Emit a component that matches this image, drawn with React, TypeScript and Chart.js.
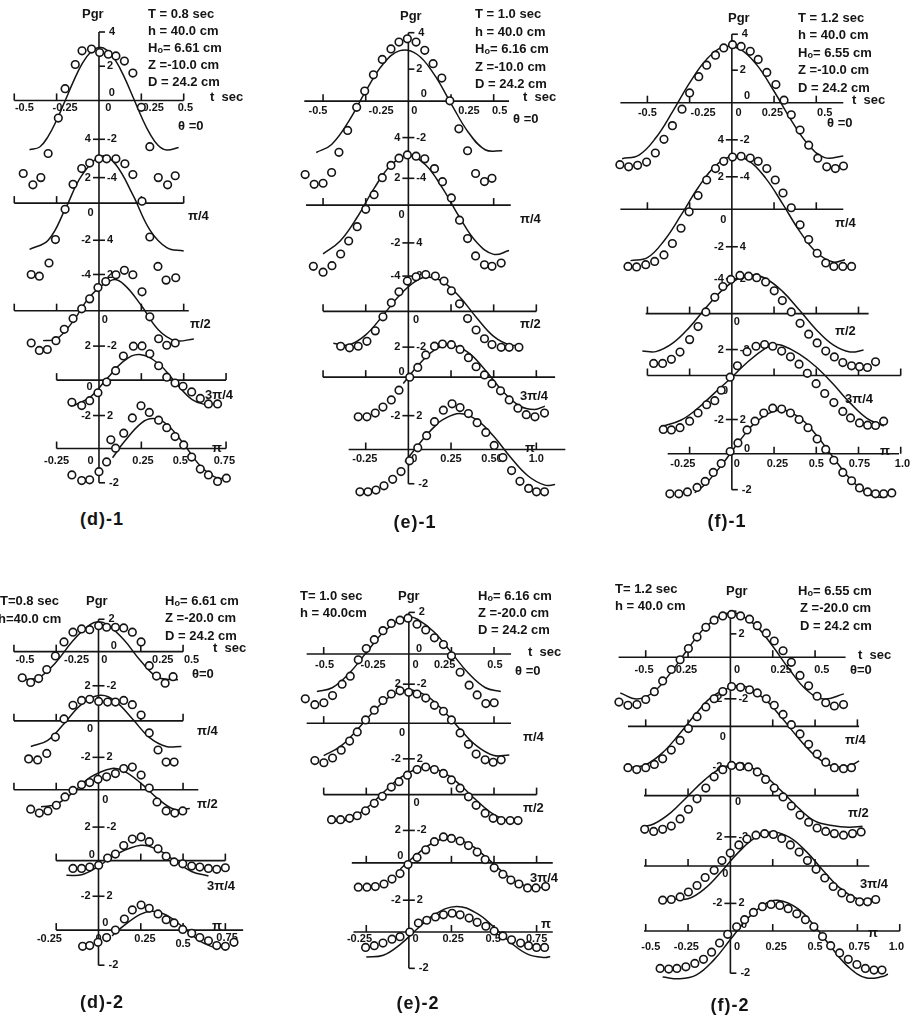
import React, { useEffect, useRef } from 'react';
import { Chart, registerables } from 'chart.js';

Chart.register(...registerables);

type Pt = [number, number];

// ---------------- DATA (t in sec, Pgr) : subplots theta = 0, pi/4, pi/2, 3pi/4, pi ----------------
const SUB_LABELS = ['θ =0', 'π/4', 'π/2', '3π/4', 'π'];

const D1_CURVE: Pt[][] = [
  [[-0.41,-2.88],[-0.35,-2.72],[-0.3,-2.1],[-0.25,-1.15],[-0.2,-0.02],[-0.15,1.13],[-0.1,2.14],[-0.05,2.82],[0,3.1],[0.05,2.91],[0.1,2.3],[0.15,1.35],[0.2,0.22],[0.25,-0.94],[0.3,-1.94],[0.35,-2.63],[0.4,-2.9],[0.47,-2.75]],
  [[-0.41,-2.7],[-0.3,-2.17],[-0.2,-0.37],[-0.1,1.64],[0.02,2.75],[0.1,2.24],[0.2,0.48],[0.3,-1.56],[0.4,-2.6],[0.5,-2.8]],
  [[-0.33,-1.75],[-0.25,-1.65],[-0.15,-0.58],[-0.05,0.86],[0.08,1.8],[0.15,1.51],[0.25,0.3],[0.35,-1.11],[0.45,-1.75],[0.56,-1.65]],
  [[-0.15,-1.5],[-0.05,-0.98],[0.05,0.12],[0.15,1.14],[0.24,1.5],[0.35,0.97],[0.45,-0.12],[0.55,-1.14],[0.65,-1.5]],
  [[0.08,-0.54],[0.15,0.41],[0.25,1.49],[0.32,1.75],[0.4,1.42],[0.5,0.27],[0.6,-1.03],[0.7,-1.73],[0.76,-1.66]],
];
const D1_OBS: Pt[][] = [
  [[-0.447,-4.27],[-0.39,-4.93],[-0.343,-4.51],[-0.3,-3.1],[-0.24,-1.03],[-0.2,0.69],[-0.14,2.1],[-0.1,2.9],[-0.044,3.0],[0.004,2.8],[0.055,2.7],[0.1,2.6],[0.15,2.3],[0.2,1.6],[0.25,-0.4],[0.3,-2.7],[0.35,-4.51],[0.405,-4.93],[0.45,-4.4]],
  [[-0.4,-4.17],[-0.352,-4.27],[-0.295,-3.5],[-0.257,-2.13],[-0.2,-0.36],[-0.153,1.1],[-0.102,2.02],[-0.055,2.34],[0,2.59],[0.045,2.59],[0.1,2.59],[0.153,2.3],[0.2,1.67],[0.254,0.11],[0.3,-1.98],[0.348,-3.7],[0.396,-4.5],[0.453,-4.36]],
  [[-0.4,-1.89],[-0.352,-2.32],[-0.305,-2.27],[-0.254,-1.75],[-0.205,-1.09],[-0.153,-0.46],[-0.102,0.11],[-0.055,0.69],[-0.006,1.35],[0.04,1.7],[0.1,2.1],[0.15,2.36],[0.2,2.1],[0.254,1.1],[0.3,-0.36],[0.352,-1.64],[0.4,-2.02],[0.45,-1.89]],
  [[-0.16,-1.3],[-0.102,-1.49],[-0.055,-1.2],[-0.006,-0.74],[0.045,-0.11],[0.098,0.55],[0.144,1.41],[0.203,1.98],[0.254,2.0],[0.3,1.54],[0.352,0.84],[0.4,0.17],[0.449,-0.17],[0.496,-0.36],[0.547,-0.69],[0.598,-1.07],[0.646,-1.39],[0.7,-1.39]],
  [[-0.16,-1.54],[-0.102,-1.87],[-0.055,-1.83],[0,-1.35],[0.045,-0.78],[0.07,0.51],[0.098,0.02],[0.146,0.9],[0.197,1.79],[0.248,2.5],[0.297,2.11],[0.352,1.66],[0.4,1.22],[0.449,0.7],[0.5,0.21],[0.547,-0.5],[0.598,-1.2],[0.646,-1.54],[0.7,-1.92],[0.752,-1.73]],
];

const E1_CURVE: Pt[][] = [
  [[-0.54,-3.0],[-0.45,-2.53],[-0.35,-1.18],[-0.25,0.58],[-0.15,2.14],[-0.05,2.95],[0.05,2.74],[0.15,1.58],[0.25,-0.14],[0.35,-1.8],[0.45,-2.84],[0.55,-2.9]],
  [[-0.5,-2.85],[-0.4,-2.1],[-0.3,-0.71],[-0.2,0.99],[-0.1,2.36],[0,2.9],[0.1,2.36],[0.2,0.99],[0.3,-0.71],[0.4,-2.17],[0.5,-2.88],[0.59,-2.66]],
  [[-0.44,-1.86],[-0.35,-1.96],[-0.25,-1.37],[-0.15,-0.25],[-0.05,0.96],[0.05,1.81],[0.12,2.0],[0.2,1.75],[0.3,0.85],[0.4,-0.37],[0.5,-1.46],[0.6,-1.98],[0.66,-1.94]],
  [[-0.03,-0.37],[0.05,0.61],[0.15,1.57],[0.242,1.9],[0.35,1.45],[0.45,0.42],[0.55,-0.79],[0.65,-1.67],[0.74,-1.89],[0.8,-1.69]],
  [[-0.02,-0.71],[0.05,0.16],[0.1,0.77],[0.15,1.31],[0.2,1.73],[0.3,2.1],[0.4,1.73],[0.5,0.77],[0.6,-0.47],[0.7,-1.53],[0.8,-2.08],[0.86,-2.05]],
];
const E1_OBS: Pt[][] = [
  [[-0.605,-4.29],[-0.552,-4.86],[-0.5,-4.8],[-0.45,-4.17],[-0.407,-2.99],[-0.356,-1.71],[-0.303,-0.36],[-0.256,0.59],[-0.205,1.54],[-0.153,2.44],[-0.102,3.05],[-0.055,3.45],[-0.006,3.64],[0.045,3.45],[0.096,2.97],[0.145,2.19],[0.196,1.35],[0.243,0.02],[0.296,-1.62],[0.347,-2.9],[0.394,-4.23],[0.446,-4.7],[0.49,-4.51]],
  [[-0.557,-3.58],[-0.5,-3.92],[-0.448,-3.54],[-0.397,-2.86],[-0.35,-2.1],[-0.3,-1.26],[-0.25,-0.25],[-0.201,0.61],[-0.153,1.6],[-0.102,2.32],[-0.055,2.74],[-0.006,2.93],[0.045,2.86],[0.096,2.7],[0.153,2.13],[0.2,1.37],[0.252,0.42],[0.3,-0.88],[0.347,-1.96],[0.394,-2.97],[0.446,-3.49],[0.49,-3.58],[0.544,-3.39]],
  [[-0.397,-2.04],[-0.345,-2.13],[-0.294,-2.04],[-0.243,-1.75],[-0.194,-1.14],[-0.149,-0.32],[-0.1,0.5],[-0.055,1.14],[-0.006,1.77],[0.045,2.02],[0.102,2.15],[0.158,2.06],[0.209,1.77],[0.252,1.2],[0.3,0.44],[0.347,-0.42],[0.397,-1.09],[0.446,-1.6],[0.49,-1.94],[0.544,-2.1],[0.591,-2.1],[0.648,-2.1]],
  [[-0.294,-2.32],[-0.243,-2.32],[-0.194,-2.1],[-0.149,-1.75],[-0.1,-1.33],[-0.055,-0.76],[0.008,0],[0.055,0.57],[0.102,1.3],[0.153,1.81],[0.2,1.94],[0.252,1.9],[0.303,1.62],[0.352,1.14],[0.397,0.61],[0.446,0.13],[0.49,-0.38],[0.54,-0.8],[0.591,-1.33],[0.642,-1.81],[0.691,-2.19],[0.742,-2.32],[0.798,-2.1]],
  [[-0.284,-2.47],[-0.237,-2.47],[-0.19,-2.37],[-0.143,-2.12],[-0.092,-1.74],[-0.043,-1.29],[0.007,-0.66],[0.055,0.1],[0.107,0.81],[0.153,1.63],[0.205,2.3],[0.256,2.67],[0.303,2.45],[0.352,2.1],[0.403,1.57],[0.454,1.0],[0.503,0.24],[0.554,-0.47],[0.605,-1.23],[0.654,-1.86],[0.705,-2.27],[0.751,-2.47],[0.798,-2.47]],
];

const F1_CURVE: Pt[][] = [
  [[-0.65,-3.27],[-0.55,-3.06],[-0.45,-2.05],[-0.35,-0.51],[-0.25,1.16],[-0.15,2.53],[-0.05,3.25],[0.05,3.12],[0.15,2.18],[0.25,0.67],[0.35,-1.0],[0.45,-2.42],[0.55,-3.21],[0.66,-3.12]],
  [[-0.6,-3.0],[-0.5,-2.83],[-0.4,-1.82],[-0.3,-0.33],[-0.2,1.26],[-0.1,2.51],[0,3.08],[0.1,2.83],[0.2,1.82],[0.3,0.33],[0.4,-1.26],[0.5,-2.51],[0.6,-3.08],[0.67,-2.95]],
  [[-0.53,-2.18],[-0.45,-2.22],[-0.35,-1.73],[-0.25,-0.79],[-0.15,0.38],[-0.05,1.43],[0.05,2.11],[0.12,2.25],[0.2,2.05],[0.3,1.3],[0.4,0.21],[0.5,-0.94],[0.6,-1.83],[0.7,-2.24],[0.78,-2.13]],
  [[-0.42,-3.0],[-0.3,-2.6],[-0.2,-1.9],[-0.1,-1.0],[0,-0.1],[0.1,0.85],[0.2,1.6],[0.25,1.8],[0.3,1.75],[0.4,1.25],[0.5,0.5],[0.6,-0.5],[0.7,-1.6],[0.8,-2.5],[0.9,-2.95]],
  [[-0.22,-2.28],[-0.15,-1.71],[-0.05,-0.53],[0.05,0.8],[0.15,1.91],[0.287,2.55],[0.4,2.11],[0.5,1.1],[0.6,-0.21],[0.7,-1.46],[0.8,-2.32],[0.88,-2.55],[0.92,-2.5]],
];
const F1_OBS: Pt[][] = [
  [[-0.663,-3.62],[-0.611,-3.75],[-0.558,-3.66],[-0.505,-3.47],[-0.453,-2.94],[-0.402,-2.14],[-0.352,-1.34],[-0.295,-0.38],[-0.25,0.57],[-0.196,1.52],[-0.149,2.19],[-0.097,2.78],[-0.048,3.2],[0.004,3.39],[0.055,3.29],[0.109,3.0],[0.156,2.53],[0.207,1.77],[0.261,1.06],[0.309,0.15],[0.352,-0.71],[0.404,-1.6],[0.455,-2.48],[0.509,-3.24],[0.562,-3.75],[0.613,-3.85],[0.661,-3.7]],
  [[-0.615,-3.34],[-0.564,-3.37],[-0.51,-3.24],[-0.457,-3.05],[-0.402,-2.67],[-0.352,-2.0],[-0.301,-1.11],[-0.253,-0.15],[-0.2,0.8],[-0.149,1.71],[-0.097,2.38],[-0.048,2.8],[0.004,3.05],[0.055,3.1],[0.109,2.99],[0.156,2.8],[0.207,2.38],[0.257,1.71],[0.303,0.95],[0.352,0.09],[0.404,-0.91],[0.455,-1.77],[0.505,-2.57],[0.556,-3.14],[0.604,-3.34],[0.657,-3.34],[0.709,-3.34]],
  [[-0.463,-2.91],[-0.41,-2.91],[-0.358,-2.67],[-0.307,-2.25],[-0.25,-1.52],[-0.2,-0.76],[-0.154,0.1],[-0.101,0.95],[-0.053,1.58],[-0.006,2.0],[0.048,2.23],[0.099,2.19],[0.147,2.1],[0.2,1.85],[0.251,1.33],[0.299,0.76],[0.352,0.1],[0.404,-0.57],[0.455,-1.2],[0.505,-1.71],[0.556,-2.19],[0.607,-2.53],[0.657,-2.86],[0.709,-3.05],[0.756,-3.1],[0.803,-3.15],[0.851,-2.82]],
  [[-0.406,-3.15],[-0.358,-3.18],[-0.307,-3.05],[-0.25,-2.67],[-0.2,-2.19],[-0.149,-1.71],[-0.101,-1.47],[-0.063,-0.86],[-0.01,-0.1],[0.033,0.57],[0.09,1.39],[0.143,1.71],[0.194,1.81],[0.242,1.71],[0.295,1.43],[0.347,1.09],[0.398,0.66],[0.447,0.13],[0.499,-0.48],[0.55,-1.05],[0.604,-1.58],[0.657,-2.1],[0.703,-2.48],[0.756,-2.77],[0.804,-2.9],[0.851,-2.92],[0.899,-2.67]],
  [[-0.367,-2.34],[-0.314,-2.34],[-0.263,-2.23],[-0.206,-1.97],[-0.158,-1.62],[-0.11,-1.09],[-0.063,-0.57],[-0.01,0.13],[0.036,0.63],[0.09,1.39],[0.137,1.9],[0.189,2.38],[0.242,2.66],[0.295,2.61],[0.347,2.38],[0.398,2.0],[0.451,1.52],[0.505,0.86],[0.556,0.25],[0.604,-0.38],[0.657,-1.09],[0.709,-1.58],[0.756,-2.0],[0.804,-2.23],[0.851,-2.34],[0.899,-2.34],[0.947,-2.29]],
];

const D2_CURVE: Pt[][] = [
  [[-0.44,-1.65],[-0.35,-1.5],[-0.25,-0.6],[-0.15,0.66],[-0.05,1.58],[0,1.75],[0.05,1.6],[0.15,0.7],[0.25,-0.55],[0.35,-1.5],[0.47,-1.65]],
  [[-0.4,-1.5],[-0.3,-1.14],[-0.2,-0.12],[-0.1,0.97],[0.01,1.5],[0.1,1.14],[0.2,0.12],[0.3,-0.97],[0.4,-1.5],[0.49,-1.5]],
  [[-0.34,-1.0],[-0.25,-0.85],[-0.15,-0.16],[-0.05,0.72],[0.08,1.25],[0.15,1.09],[0.25,0.39],[0.35,-0.52],[0.45,-1.15],[0.54,-1.1]],
  [[-0.19,-0.86],[-0.1,-0.83],[0,-0.34],[0.1,0.34],[0.25,0.9],[0.35,0.64],[0.45,0],[0.55,-0.64],[0.65,-0.9]],
  [[0.08,-0.34],[0.15,0.26],[0.25,0.94],[0.32,1.1],[0.4,0.89],[0.5,0.17],[0.6,-0.65],[0.7,-1.09]],
];
const D2_OBS: Pt[][] = [
  [[-0.451,-1.53],[-0.401,-1.81],[-0.354,-1.58],[-0.306,-1.05],[-0.255,-0.25],[-0.204,0.57],[-0.151,1.14],[-0.1,1.33],[-0.052,1.29],[0.001,1.52],[0.048,1.43],[0.1,1.43],[0.149,1.39],[0.2,1.14],[0.252,0.57],[0.3,-0.82],[0.343,-1.43],[0.394,-1.85],[0.441,-1.47]],
  [[-0.413,-2.23],[-0.36,-2.29],[-0.306,-1.91],[-0.255,-0.95],[-0.204,0.11],[-0.151,0.91],[-0.1,1.2],[-0.052,1.26],[0.001,1.14],[0.054,1.1],[0.1,1.1],[0.149,1.2],[0.2,0.95],[0.252,0.34],[0.3,-0.71],[0.352,-1.71],[0.4,-2.42],[0.447,-2.42]],
  [[-0.401,-1.14],[-0.35,-1.37],[-0.299,-1.24],[-0.249,-0.91],[-0.198,-0.42],[-0.151,-0.04],[-0.1,0.29],[-0.052,0.42],[-0.003,0.61],[0.048,0.76],[0.1,0.95],[0.149,1.24],[0.2,1.33],[0.252,0.86],[0.3,0.1],[0.346,-0.72],[0.4,-1.24],[0.451,-1.37],[0.498,-1.24]],
  [[-0.151,-0.46],[-0.1,-0.46],[-0.052,-0.38],[0.001,-0.27],[0.054,0.15],[0.1,0.38],[0.149,0.88],[0.2,1.26],[0.252,1.39],[0.3,1.11],[0.352,0.69],[0.4,0.25],[0.447,-0.08],[0.498,-0.19],[0.551,-0.32],[0.599,-0.38],[0.65,-0.46],[0.699,-0.51],[0.75,-0.42]],
  [[-0.094,-0.95],[-0.052,-0.91],[-0.003,-0.72],[0.048,-0.44],[0.1,0],[0.153,0.65],[0.2,1.18],[0.252,1.47],[0.3,1.28],[0.352,0.95],[0.4,0.61],[0.447,0.42],[0.498,0.04],[0.551,-0.19],[0.599,-0.44],[0.65,-0.63],[0.699,-0.91],[0.75,-0.95],[0.801,-0.72]],
];

const E2_CURVE: Pt[][] = [
  [[-0.54,-2.2],[-0.45,-1.98],[-0.35,-1.13],[-0.25,0.08],[-0.15,1.27],[-0.05,2.04],[0,2.19],[0.05,2.04],[0.15,1.27],[0.25,0.08],[0.35,-1.13],[0.45,-1.98],[0.54,-2.2]],
  [[-0.5,-1.9],[-0.4,-1.35],[-0.3,-0.35],[-0.2,0.76],[-0.1,1.63],[0,1.95],[0.1,1.63],[0.2,0.76],[0.3,-0.35],[0.4,-1.35],[0.5,-1.9],[0.59,-1.86]],
  [[-0.45,-1.58],[-0.35,-1.44],[-0.25,-0.8],[-0.15,0.12],[-0.05,1.0],[0.05,1.53],[0.1,1.6],[0.2,1.32],[0.3,0.58],[0.4,-0.36],[0.5,-1.17],[0.6,-1.58],[0.66,-1.56]],
  [[-0.05,-0.36],[0.05,0.53],[0.15,1.22],[0.24,1.45],[0.35,1.12],[0.45,0.36],[0.55,-0.53],[0.65,-1.22],[0.75,-1.45],[0.82,-1.4]],
  [[-0.25,-1.47],[-0.15,-1.36],[-0.05,-0.72],[0.05,0.19],[0.15,1.03],[0.28,1.5],[0.4,1.09],[0.5,0.28],[0.6,-0.64],[0.7,-1.31],[0.8,-1.49],[0.83,-1.43]],
];
const E2_OBS: Pt[][] = [
  [[-0.608,-2.63],[-0.552,-2.97],[-0.499,-2.86],[-0.448,-2.44],[-0.392,-1.77],[-0.344,-1.3],[-0.297,-0.34],[-0.25,0.32],[-0.203,0.84],[-0.152,1.37],[-0.103,1.79],[-0.052,1.98],[-0.005,2.1],[0.048,1.75],[0.099,1.41],[0.15,0.95],[0.203,0.55],[0.25,-0.11],[0.301,-1.07],[0.354,-1.83],[0.401,-2.4],[0.452,-2.91],[0.501,-2.86]],
  [[-0.552,-2.19],[-0.499,-2.32],[-0.448,-2.04],[-0.397,-1.58],[-0.348,-1.05],[-0.303,-0.51],[-0.254,0.19],[-0.203,0.76],[-0.152,1.33],[-0.103,1.71],[-0.052,1.9],[-0.001,1.81],[0.048,1.71],[0.099,1.47],[0.15,1.05],[0.203,0.7],[0.25,0.19],[0.301,-0.57],[0.35,-1.24],[0.395,-1.81],[0.448,-2.15],[0.495,-2.29],[0.542,-2.15]],
  [[-0.454,-1.47],[-0.401,-1.47],[-0.348,-1.39],[-0.303,-1.24],[-0.254,-0.95],[-0.203,-0.51],[-0.156,-0.1],[-0.103,0.44],[-0.058,0.76],[-0.008,1.14],[0.048,1.47],[0.099,1.62],[0.15,1.47],[0.203,1.24],[0.25,0.86],[0.301,0.38],[0.35,-0.13],[0.395,-0.63],[0.448,-1.09],[0.495,-1.39],[0.542,-1.52],[0.595,-1.52],[0.641,-1.52]],
  [[-0.297,-1.43],[-0.246,-1.43],[-0.197,-1.39],[-0.146,-1.24],[-0.099,-0.95],[-0.052,-0.63],[-0.005,-0.1],[0.048,0.32],[0.099,0.76],[0.15,1.24],[0.203,1.52],[0.25,1.43],[0.301,1.28],[0.35,1.01],[0.401,0.63],[0.448,0.19],[0.501,-0.29],[0.552,-0.67],[0.599,-1.01],[0.646,-1.24],[0.697,-1.47],[0.746,-1.47],[0.803,-1.39]],
  [[-0.254,-0.9],[-0.203,-0.8],[-0.152,-0.65],[-0.099,-0.42],[-0.052,-0.27],[0.005,0],[0.056,0.53],[0.105,0.69],[0.156,0.88],[0.203,1.01],[0.254,1.1],[0.301,1.01],[0.354,0.82],[0.401,0.57],[0.452,0.34],[0.501,0.06],[0.552,-0.23],[0.603,-0.46],[0.656,-0.65],[0.703,-0.8],[0.75,-0.9],[0.797,-0.9]],
];

const F2_CURVE: Pt[][] = [
  [[-0.65,-2.1],[-0.55,-2.45],[-0.45,-2.01],[-0.35,-0.88],[-0.25,0.5],[-0.15,1.74],[-0.05,2.49],[0.005,2.6],[0.05,2.52],[0.15,1.85],[0.25,0.64],[0.35,-0.74],[0.45,-1.92],[0.55,-2.45],[0.67,-2.15]],
  [[-0.58,-2.4],[-0.5,-2.25],[-0.4,-1.54],[-0.3,-0.43],[-0.2,0.79],[-0.1,1.8],[0.04,2.4],[0.1,2.29],[0.2,1.63],[0.3,0.55],[0.4,-0.67],[0.5,-1.72],[0.6,-2.32],[0.7,-2.32],[0.76,-2.02]],
  [[-0.52,-1.84],[-0.45,-1.65],[-0.35,-0.98],[-0.25,-0.02],[-0.15,0.94],[-0.05,1.63],[0.04,1.85],[0.1,1.75],[0.2,1.19],[0.3,0.28],[0.4,-0.71],[0.5,-1.5],[0.6,-1.75],[0.7,-1.85],[0.78,-1.8]],
  [[-0.35,-1.92],[-0.25,-1.92],[-0.15,-1.31],[-0.05,-0.29],[0.05,0.83],[0.15,1.68],[0.25,2.0],[0.35,1.68],[0.45,0.83],[0.55,-0.29],[0.65,-1.31],[0.75,-1.92],[0.84,-1.95]],
  [[-0.4,-2.7],[-0.3,-2.8],[-0.2,-2.57],[-0.1,-1.72],[0,-0.5],[0.1,0.72],[0.2,1.57],[0.28,1.8],[0.4,1.3],[0.5,0.26],[0.6,-1.01],[0.7,-2.13],[0.8,-2.74],[0.9,-2.67],[0.93,-2.52]],
];
const F2_OBS: Pt[][] = [
  [[-0.658,-2.63],[-0.605,-2.82],[-0.552,-2.78],[-0.5,-2.48],[-0.449,-2.02],[-0.4,-1.39],[-0.349,-0.72],[-0.297,-0.15],[-0.248,0.51],[-0.197,1.18],[-0.145,1.75],[-0.096,2.17],[-0.045,2.42],[0.007,2.51],[0.06,2.42],[0.113,2.23],[0.159,1.85],[0.212,1.41],[0.259,0.95],[0.311,0.38],[0.36,-0.3],[0.411,-1.07],[0.462,-1.68],[0.512,-2.29],[0.563,-2.67],[0.614,-2.86],[0.668,-2.78]],
  [[-0.605,-2.42],[-0.553,-2.53],[-0.5,-2.42],[-0.449,-2.23],[-0.4,-1.9],[-0.349,-1.39],[-0.297,-0.82],[-0.248,-0.13],[-0.197,0.57],[-0.145,1.14],[-0.096,1.62],[-0.045,2.04],[0.007,2.34],[0.06,2.29],[0.113,2.15],[0.159,1.96],[0.212,1.62],[0.259,1.24],[0.311,0.7],[0.36,0.1],[0.411,-0.44],[0.462,-1.05],[0.512,-1.62],[0.563,-2.1],[0.614,-2.42],[0.668,-2.48],[0.715,-2.42]],
  [[-0.506,-1.98],[-0.453,-2.1],[-0.4,-1.98],[-0.349,-1.79],[-0.297,-1.37],[-0.248,-0.8],[-0.197,-0.19],[-0.145,0.44],[-0.096,1.1],[-0.045,1.52],[0.007,1.77],[0.056,1.71],[0.107,1.68],[0.159,1.39],[0.208,0.95],[0.259,0.44],[0.311,-0.08],[0.36,-0.61],[0.411,-1.14],[0.462,-1.56],[0.512,-1.9],[0.563,-2.1],[0.614,-2.23],[0.668,-2.32],[0.721,-2.23],[0.772,-2.13]],
  [[-0.4,-2.0],[-0.349,-1.96],[-0.297,-1.81],[-0.248,-1.52],[-0.197,-1.14],[-0.149,-0.67],[-0.096,-0.25],[-0.05,0.32],[-0.001,0.76],[0.05,1.24],[0.098,1.58],[0.151,1.81],[0.202,1.9],[0.254,1.85],[0.303,1.62],[0.354,1.24],[0.406,0.82],[0.455,0.32],[0.506,-0.19],[0.557,-0.7],[0.607,-1.2],[0.658,-1.58],[0.709,-1.9],[0.763,-2.1],[0.81,-2.1],[0.858,-1.96]],
  [[-0.415,-2.19],[-0.364,-2.23],[-0.316,-2.19],[-0.263,-2.1],[-0.21,-1.9],[-0.159,-1.66],[-0.111,-1.24],[-0.064,-0.7],[-0.016,-0.19],[0.037,0.25],[0.084,0.67],[0.136,1.09],[0.189,1.43],[0.24,1.56],[0.292,1.5],[0.341,1.31],[0.392,1.01],[0.443,0.67],[0.493,0.25],[0.544,-0.32],[0.592,-0.86],[0.645,-1.28],[0.696,-1.66],[0.747,-1.96],[0.797,-2.19],[0.848,-2.29],[0.895,-2.29]],
];

// ---------------- LAYOUT (page pixels, label placement) ----------------
type Tick = [number, number, string, string];
interface Layout {
  L: number; T: number; W: number; H: number;
  x0: number; sx: number; u: number;
  bases: number[];
  axes: number[][];
  vTop: [number, number, string];
  vBot: [number, number, string];
  vTicks: Tick[];
  zeros: [number, number, number][];
  xLabels: [number, number, string, number][];
  texts: [number, number, string][];
  caption: [number, number, string];
  curves: Pt[][];
  obs: Pt[][];
}

const PANELS: Layout[] = [
  {
    L: 0, T: 0, W: 300, H: 505, x0: 97, sx: 176, u: 17.5,
    bases: [97, 202, 312, 383, 453],
    axes: [[-0.5, 0.5, -0.5, 0.5], [-0.5, 0.5, -0.5, 0.5], [-0.5, 0.53, -0.5, 0.5], [-0.25, 0.75, -0.25, 0.75], [-0.25, 0.75, -0.25, 0.75]],
    vTop: [0, 4, '4'], vBot: [4, -2, '-2'],
    vTicks: [[0, 2, '', '2'], [0, -2.27, '4', '-2'], [0, -4.51, '2', '-4'], [1, -2.17, '-2', '4'], [1, -4.17, '-4', '2'], [2, -2.07, '2', '-2'], [4, 1.93, '-2', '2']],
    zeros: [[0, 0.075, 0.45], [1, -0.05, -0.6], [2, 0.035, -0.55], [3, -0.055, -0.4]],
    xLabels: [[0, -0.44, '-0.5', 8], [0, -0.2, '-0.25', 8], [0, 0.055, '0', 8], [0, 0.32, '0.25', 8], [0, 0.51, '0.5', 8],
      [4, -0.25, '-0.25', 12], [4, -0.05, '0', 12], [4, 0.26, '0.25', 12], [4, 0.48, '0.5', 12], [4, 0.74, '0.75', 12]],
    texts: [[82, 13, 'Pgr'], [148, 13, 'T = 0.8 sec'], [148, 30, 'h = 40.0 cm'], [148, 47, 'Ho= 6.61 cm'], [148, 64, 'Z =-10.0 cm'], [148, 81, 'D = 24.2 cm'],
      [210, 96, 't  sec'], [178, 125, SUB_LABELS[0]], [188, 215, SUB_LABELS[1]], [190, 323, SUB_LABELS[2]], [205, 394, SUB_LABELS[3]], [212, 447, SUB_LABELS[4]]],
    caption: [102, 519, '(d)-1'],
    curves: D1_CURVE, obs: D1_OBS,
  },
  {
    L: 290, T: 0, W: 310, H: 505, x0: 407, sx: 177, u: 17.5,
    bases: [97.7, 204, 312.7, 380, 454],
    axes: [[-0.61, 0.59, -0.5, 0.5], [-0.6, 0.6, -0.5, 0.5], [-0.5, 0.75, -0.5, 0.75], [-0.5, 0.86, -0.5, 0.75], [-0.35, 0.92, -0.25, 0.75]],
    vTop: [0, 4, '4'], vBot: [4, -2, '-2'],
    vTicks: [[0, 1.87, '', '2'], [0, -2.13, '4', '-2'], [0, -4.51, '2', '-4'], [1, -2.21, '-2', '4'], [1, -4.15, '-4', '2'], [2, -2.09, '2', '-2'], [4, 1.98, '-2', '2']],
    zeros: [[0, 0.09, 0.4], [1, -0.04, -0.6], [2, 0.045, -0.5], [3, -0.04, 0.3]],
    xLabels: [[0, -0.53, '-0.5', 10], [0, -0.16, '-0.25', 10], [0, 0.035, '0', 10], [0, 0.355, '0.25', 10], [0, 0.535, '0.5', 10],
      [4, -0.255, '-0.25', 9], [4, 0.035, '0', 9], [4, 0.25, '0.25', 9], [4, 0.49, '0.50', 9], [4, 0.75, '1.0', 9]],
    texts: [[400, 15, 'Pgr'], [475, 13, 'T = 1.0 sec'], [475, 31, 'h = 40.0 cm'], [475, 48, 'Ho= 6.16 cm'], [475, 66, 'Z =-10.0 cm'], [475, 83, 'D = 24.2 cm'],
      [523, 96, 't  sec'], [513, 118, SUB_LABELS[0]], [520, 218, SUB_LABELS[1]], [520, 323, SUB_LABELS[2]], [520, 395, SUB_LABELS[3]], [525, 447, SUB_LABELS[4]]],
    caption: [415, 522, '(e)-1'],
    curves: E1_CURVE, obs: E1_OBS,
  },
  {
    L: 595, T: 0, W: 320, H: 505, x0: 731, sx: 175, u: 17.5,
    bases: [99.3, 208.3, 315, 378.3, 458.3],
    axes: [[-0.66, 0.66, -0.5, 0.5], [-0.66, 0.66, -0.5, 0.5], [-0.51, 0.81, -0.5, 0.75], [-0.5, 1.0, -0.5, 1.0], [-0.38, 0.99, -0.25, 1.0]],
    vTop: [0, 4, '4'], vBot: [4, -2.1, '-2'],
    vTicks: [[0, 1.9, '', '2'], [0, -2.17, '4', '-2'], [0, -4.33, '2', '-4'], [1, -2.19, '-2', '4'], [1, -4.06, '-4', '2'], [2, -2.1, '2', '-2'], [4, 2.0, '-2', '2']],
    zeros: [[0, 0.09, 0.4], [1, -0.05, -0.6], [2, 0.03, -0.5], [3, -0.04, -0.9], [4, 0.09, 0.3]],
    xLabels: [[0, -0.5, '-0.5', 10], [0, -0.17, '-0.25', 10], [0, 0.04, '0', 10], [0, 0.24, '0.25', 10], [0, 0.55, '0.5', 10],
      [4, -0.29, '-0.25', 10], [4, 0.03, '0', 10], [4, 0.27, '0.25', 10], [4, 0.5, '0.5', 10], [4, 0.755, '0.75', 10], [4, 1.01, '1.0', 10]],
    texts: [[728, 17, 'Pgr'], [798, 17, 'T = 1.2 sec'], [798, 34, 'h = 40.0 cm'], [798, 52, 'Ho= 6.55 cm'], [798, 69, 'Z =-10.0 cm'], [798, 87, 'D = 24.2 cm'],
      [852, 99, 't  sec'], [827, 122, SUB_LABELS[0]], [835, 222, SUB_LABELS[1]], [835, 330, SUB_LABELS[2]], [845, 398, SUB_LABELS[3]], [880, 450, SUB_LABELS[4]]],
    caption: [727, 521, '(f)-1'],
    curves: F1_CURVE, obs: F1_OBS,
  },
  {
    L: 0, T: 560, W: 300, H: 440, x0: 96.5, sx: 175.7, u: 17.5,
    bases: [648.3, 719.3, 790, 862.7, 934],
    axes: [[-0.5, 0.5, -0.5, 0.5], [-0.5, 0.5, -0.5, 0.5], [-0.5, 0.59, -0.5, 0.5], [-0.25, 0.75, -0.25, 0.75], [-0.25, 0.855, -0.25, 0.75]],
    vTop: [0, 1.9, '2'], vBot: [4, -2.06, '-2'],
    vTicks: [[0, -2.0, '2', '-2'], [1, -2.14, '-2', '2'], [2, -2.19, '2', '-2'], [3, -2.09, '-2', '2']],
    zeros: [[0, 0.09, 0.35], [1, -0.05, -0.5], [2, 0.04, -0.6], [3, -0.04, 0.35], [4, 0.04, 0.42]],
    xLabels: [[0, -0.435, '-0.5', 8], [0, -0.13, '-0.25', 8], [0, 0.035, '0', 8], [0, 0.38, '0.25', 8], [0, 0.55, '0.5', 8],
      [4, -0.29, '-0.25', 9], [4, 0, '0', 9], [4, 0.275, '0.25', 9], [4, 0.5, '0.5', 14], [4, 0.76, '0.75', 8]],
    texts: [[0, 600, 'T=0.8 sec'], [-2, 618, 'h=40.0 cm'], [86, 600, 'Pgr'], [165, 600, 'Ho= 6.61 cm'], [165, 617, 'Z =-20.0 cm'], [165, 635, 'D = 24.2 cm'],
      [213, 647, 't  sec'], [192, 673, 'θ=0'], [197, 730, SUB_LABELS[1]], [197, 803, SUB_LABELS[2]], [207, 885, SUB_LABELS[3]], [212, 925, SUB_LABELS[4]]],
    caption: [102, 1002, '(d)-2'],
    curves: D2_CURVE, obs: D2_OBS,
  },
  {
    L: 290, T: 560, W: 310, H: 440, x0: 407.5, sx: 176.7, u: 17.5,
    bases: [650.7, 721.7, 795, 865, 936],
    axes: [[-0.6, 0.6, -0.5, 0.5], [-0.6, 0.6, -0.5, 0.5], [-0.5, 0.75, -0.5, 0.75], [-0.335, 0.845, -0.25, 0.75], [-0.325, 0.845, -0.25, 0.75]],
    vTop: [0, 2.44, '2'], vBot: [4, -2.13, '-2'],
    vTicks: [[0, -1.77, '2', '-2'], [1, -2.09, '-2', '2'], [2, -2.1, '2', '-2'], [3, -2.19, '-2', '2']],
    zeros: [[0, 0.06, 0.3], [1, -0.04, -0.6], [2, 0.045, -0.5], [3, -0.05, 0.4]],
    xLabels: [[0, -0.495, '-0.5', 11], [0, -0.21, '-0.25', 11], [0, 0.04, '0', 11], [0, 0.21, '0.25', 11], [0, 0.505, '0.5', 11],
      [4, -0.29, '-0.25', 7], [4, 0.04, '0', 7], [4, 0.26, '0.25', 7], [4, 0.495, '0.5', 7], [4, 0.75, '0.75', 7]],
    texts: [[300, 595, 'T= 1.0 sec'], [300, 612, 'h = 40.0cm'], [398, 595, 'Pgr'], [478, 595, 'Ho= 6.16 cm'], [478, 612, 'Z =-20.0 cm'], [478, 629, 'D = 24.2 cm'],
      [528, 651, 't  sec'], [515, 670, SUB_LABELS[0]], [523, 736, SUB_LABELS[1]], [523, 807, SUB_LABELS[2]], [530, 877, SUB_LABELS[3]], [541, 923, SUB_LABELS[4]]],
    caption: [418, 1003, '(e)-2'],
    curves: E2_CURVE, obs: E2_OBS,
  },
  {
    L: 595, T: 560, W: 320, H: 440, x0: 729.5, sx: 175.5, u: 17.5,
    bases: [654, 725, 796, 868.3, 935],
    axes: [[-0.66, 0.68, -0.5, 0.5], [-0.605, 0.76, -0.5, 0.75], [-0.51, 0.76, -0.5, 0.75], [-0.51, 0.82, -0.5, 0.75], [-0.51, 1.0, -0.5, 1.0]],
    vTop: [0, 2.7, ''], vBot: [4, -2.47, '-2'],
    vTicks: [[0, 1.37, '', '2'], [0, -2.44, '2', '-2'], [1, -2.38, '-2', '2'], [2, -2.42, '2', '-2'], [3, -2.19, '-2', '2']],
    zeros: [[1, -0.045, -0.6], [2, 0.045, -0.4], [3, -0.03, -0.45], [4, 0.08, 0.33]],
    xLabels: [[0, -0.51, '-0.5', 13], [0, -0.27, '-0.25', 13], [0, 0.04, '0', 13], [0, 0.3, '0.25', 13], [0, 0.54, '0.5', 13],
      [4, -0.47, '-0.5', 16], [4, -0.26, '-0.25', 16], [4, 0.04, '0', 16], [4, 0.27, '0.25', 16], [4, 0.5, '0.5', 16], [4, 0.76, '0.75', 16], [4, 0.98, '1.0', 16]],
    texts: [[615, 588, 'T= 1.2 sec'], [615, 605, 'h = 40.0 cm'], [726, 590, 'Pgr'], [798, 590, 'Ho= 6.55 cm'], [800, 607, 'Z =-20.0 cm'], [800, 625, 'D = 24.2 cm'],
      [858, 654, 't  sec'], [850, 669, 'θ=0'], [845, 739, SUB_LABELS[1]], [848, 812, SUB_LABELS[2]], [860, 883, SUB_LABELS[3]], [868, 932, SUB_LABELS[4]]],
    caption: [730, 1005, '(f)-2'],
    curves: F2_CURVE, obs: F2_OBS,
  },
];

const INK = '#141414';
const TICK_FONT = 'bold 11px "Liberation Sans", "DejaVu Sans", sans-serif';

function paperAxes(cfg: Layout) {
  return {
    id: 'paperAxes',
    beforeDatasetsDraw(chart: any) {
      const ctx = chart.ctx as CanvasRenderingContext2D;
      const xs = chart.scales.x;
      const ys = chart.scales.y;
      const X = (t: number) => xs.getPixelForValue(t);
      const Y = (k: number, p: number) => ys.getPixelForValue(p - cfg.bases[k] / cfg.u);
      const seg = (a: number, b: number, c: number, d: number) => {
        ctx.beginPath(); ctx.moveTo(a, b); ctx.lineTo(c, d); ctx.stroke();
      };
      const txt = (s: string, x: number, y: number, align: CanvasTextAlign) => {
        if (!s) return;
        ctx.textAlign = align; ctx.fillText(s, x, y);
      };
      ctx.save();
      ctx.strokeStyle = INK; ctx.fillStyle = INK; ctx.lineWidth = 1.6;
      ctx.font = TICK_FONT; ctx.textBaseline = 'middle';
      cfg.axes.forEach(([a, b, ta, tb], k) => {
        const y = Y(k, 0);
        seg(X(a), y, X(b), y);
        for (let i = Math.round(ta * 4); i <= Math.round(tb * 4); i++) {
          if (i === 0) continue;
          const x = X(i / 4);
          seg(x, y, x, y - 7);
        }
      });
      const x0 = X(0);
      const yt = Y(cfg.vTop[0], cfg.vTop[1]);
      const yb = Y(cfg.vBot[0], cfg.vBot[1]);
      seg(x0, yt, x0, yb);
      seg(x0, yt, x0 + 6, yt);
      seg(x0, yb, x0 + 6, yb);
      txt(cfg.vTop[2], x0 + 10, yt, 'left');
      txt(cfg.vBot[2], x0 + 10, yb, 'left');
      cfg.vTicks.forEach(([k, p, l, r]) => {
        const y = Y(k, p);
        seg(l ? x0 - 6 : x0, y, r ? x0 + 6 : x0, y);
        txt(l, x0 - 8, y, 'right');
        txt(r, x0 + 8, y, 'left');
      });
      cfg.zeros.forEach(([k, t, p]) => txt('0', X(t), Y(k, p), 'center'));
      cfg.xLabels.forEach(([k, t, s, dy]) => txt(s, X(t), Y(k, 0) + dy, 'center'));
      ctx.restore();
    },
  };
}

function Panel({ cfg }: { cfg: Layout }) {
  const ref = useRef<HTMLCanvasElement | null>(null);
  useEffect(() => {
    if (!ref.current) return;
    const datasets: any[] = [];
    cfg.curves.forEach((c, k) => {
      datasets.push({
        type: 'line',
        data: c.map(([t, p]) => ({ x: t, y: p - cfg.bases[k] / cfg.u })),
        borderColor: INK, borderWidth: 1.5, pointRadius: 0, tension: 0.4,
        fill: false, order: 2, clip: false,
      });
    });
    cfg.obs.forEach((o, k) => {
      datasets.push({
        type: 'scatter',
        data: o.map(([t, p]) => ({ x: t, y: p - cfg.bases[k] / cfg.u })),
        pointStyle: 'circle', pointRadius: 3.8, borderWidth: 1.6,
        borderColor: INK, backgroundColor: '#ffffff', order: 1, clip: false,
      });
    });
    const chart = new Chart(ref.current, {
      type: 'scatter',
      data: { datasets },
      options: {
        animation: false,
        responsive: false,
        devicePixelRatio: 1,
        events: [],
        layout: { padding: 0 },
        plugins: { legend: { display: false }, tooltip: { enabled: false } },
        scales: {
          x: { type: 'linear', display: false, min: (cfg.L - cfg.x0) / cfg.sx, max: (cfg.L + cfg.W - cfg.x0) / cfg.sx },
          y: { type: 'linear', display: false, min: -(cfg.T + cfg.H) / cfg.u, max: -cfg.T / cfg.u },
        },
      },
      plugins: [paperAxes(cfg)],
    } as any);
    return () => chart.destroy();
  }, [cfg]);
  return (
    <canvas
      ref={ref}
      width={cfg.W}
      height={cfg.H}
      style={{ position: 'absolute', left: cfg.L, top: cfg.T, width: cfg.W, height: cfg.H }}
    />
  );
}

const TEXT_FONT = '"Liberation Sans", "DejaVu Sans", Arial, sans-serif';

function Label({ x, y, s, size = 13, center = false, spacing = 0 }: { x: number; y: number; s: string; size?: number; center?: boolean; spacing?: number }) {
  let content: React.ReactNode = s;
  if (s.startsWith('Ho')) {
    content = (<>H<span style={{ fontSize: '0.7em', position: 'relative', top: '0.15em' }}>o</span>{s.slice(2)}</>);
  }
  return (
    <div
      style={{
        position: 'absolute', left: x, top: y - size / 2, lineHeight: `${size}px`, fontSize: size,
        fontFamily: TEXT_FONT, fontWeight: 700, color: INK, whiteSpace: 'pre', letterSpacing: spacing,
        transform: center ? 'translateX(-50%)' : undefined,
      }}
    >
      {content}
    </div>
  );
}

export default function App() {
  useEffect(() => {
    document.body.style.margin = '0';
  }, []);
  return (
    <div style={{ position: 'absolute', left: 0, top: 0, width: 915, height: 1017, background: '#ffffff', overflow: 'hidden' }}>
      {PANELS.map((p, i) => (
        <React.Fragment key={i}>
          <Panel cfg={p} />
          {p.texts.map(([x, y, s], j) => (
            <Label key={j} x={x} y={y} s={s} size={13} />
          ))}
          <Label x={p.caption[0]} y={p.caption[1]} s={p.caption[2]} size={18} center spacing={1} />
        </React.Fragment>
      ))}
    </div>
  );
}
